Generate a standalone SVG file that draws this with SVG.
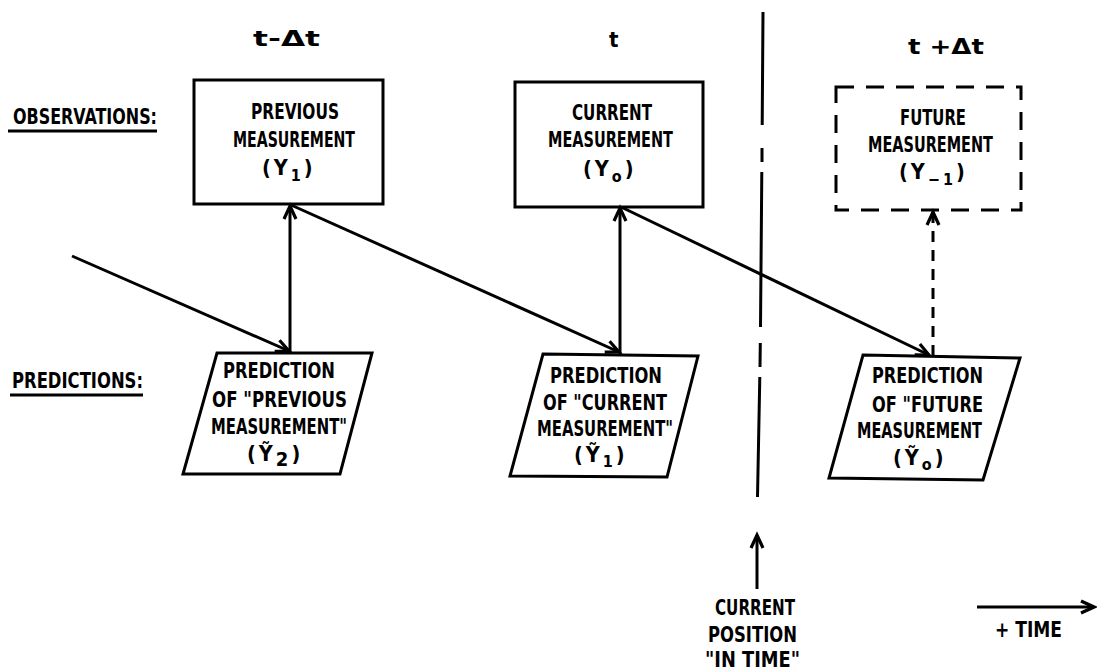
<svg xmlns="http://www.w3.org/2000/svg" width="1097" height="670" viewBox="0 0 1097 670">
<style>
text{font-family:"DejaVu Sans Condensed","DejaVu Sans","Liberation Sans",sans-serif;font-stretch:condensed;font-weight:bold;font-size:21.5px;fill:#000}
.shape{fill:none;stroke:#000;stroke-width:3;stroke-linejoin:miter}
.dash{stroke-dasharray:18 12}
.ln{fill:none;stroke:#000;stroke-width:3}
.sub{font-size:16px}
.tl{font-size:22px}
</style>
<defs>
<marker id="ah" markerUnits="userSpaceOnUse" markerWidth="24" markerHeight="24" viewBox="-18 -12 24 24" refX="0" refY="0" orient="auto">
<path d="M-13,-6 L0,0 L-13,6" fill="none" stroke="#000" stroke-width="3.2"/>
</marker>
</defs>
<rect width="1097" height="670" fill="#fff"/>

<g id="time-labels">
<text class="tl" x="253" y="46" textLength="67" lengthAdjust="spacingAndGlyphs">t-Δt</text>
<text class="tl" x="609" y="47">t</text>
<text class="tl" x="908" y="54" textLength="76" lengthAdjust="spacingAndGlyphs">t +Δt</text>
</g>

<g id="row-labels">
<text x="13" y="124" textLength="144" lengthAdjust="spacingAndGlyphs">OBSERVATIONS:</text>
<line x1="8" y1="131" x2="157" y2="131" class="ln"/>
<text x="12" y="388" textLength="131" lengthAdjust="spacingAndGlyphs">PREDICTIONS:</text>
<line x1="10" y1="395" x2="143" y2="395" class="ln"/>
</g>

<g id="previous-measurement">
<rect x="194" y="80" width="189" height="124" class="shape"/>
<text x="251" y="119" textLength="88" lengthAdjust="spacingAndGlyphs">PREVIOUS</text>
<text x="233" y="147" textLength="122" lengthAdjust="spacingAndGlyphs">MEASUREMENT</text>
<text x="262" y="175" letter-spacing="3">(Y<tspan class="sub" dy="6">1</tspan><tspan dy="-6">)</tspan></text>
</g>

<g id="current-measurement">
<rect x="515" y="82" width="188" height="125" class="shape"/>
<text x="572" y="120" textLength="80" lengthAdjust="spacingAndGlyphs">CURRENT</text>
<text x="548" y="147" textLength="125" lengthAdjust="spacingAndGlyphs">MEASUREMENT</text>
<text x="583" y="176" letter-spacing="3">(Y<tspan class="sub" dy="6">o</tspan><tspan dy="-6">)</tspan></text>
</g>

<g id="future-measurement">
<rect x="836" y="87" width="185" height="123" class="shape dash"/>
<text x="900" y="125" textLength="66" lengthAdjust="spacingAndGlyphs">FUTURE</text>
<text x="868" y="152" textLength="125" lengthAdjust="spacingAndGlyphs">MEASUREMENT</text>
<text x="899" y="179" letter-spacing="3">(Y<tspan class="sub" dy="6">−1</tspan><tspan dy="-6">)</tspan></text>
</g>

<g id="prediction-previous">
<polygon points="217,353 372,353 340,474 183,474" class="shape"/>
<text x="223" y="378" textLength="112" lengthAdjust="spacingAndGlyphs">PREDICTION</text>
<text x="212" y="407" textLength="135" lengthAdjust="spacingAndGlyphs">OF "PREVIOUS</text>
<text x="211" y="434" textLength="136" lengthAdjust="spacingAndGlyphs">MEASUREMENT"</text>
<text x="247" y="461" letter-spacing="3">(Ỹ<tspan dy="5" font-size="20px">2</tspan><tspan dy="-5">)</tspan></text>
</g>

<g id="prediction-current">
<polygon points="543,354 698,356 667,477 510,476" class="shape"/>
<text x="550" y="383" textLength="112" lengthAdjust="spacingAndGlyphs">PREDICTION</text>
<text x="543" y="410" textLength="124" lengthAdjust="spacingAndGlyphs">OF "CURRENT</text>
<text x="537" y="436" textLength="136" lengthAdjust="spacingAndGlyphs">MEASUREMENT"</text>
<text x="574" y="462" letter-spacing="3">(Ỹ<tspan class="sub" dy="5">1</tspan><tspan dy="-5">)</tspan></text>
</g>

<g id="prediction-future">
<polygon points="863,355 1020,358 983,480 829,478" class="shape"/>
<text x="872" y="383" textLength="111" lengthAdjust="spacingAndGlyphs">PREDICTION</text>
<text x="872" y="412" textLength="111" lengthAdjust="spacingAndGlyphs">OF "FUTURE</text>
<text x="857" y="438" textLength="125" lengthAdjust="spacingAndGlyphs">MEASUREMENT</text>
<text x="893" y="465" letter-spacing="3">(Ỹ<tspan class="sub" dy="5">o</tspan><tspan dy="-5">)</tspan></text>
</g>

<g id="current-position">
<path d="M763,12 L762.2,125 M762,148 L762,162 M761.8,172 L760.5,327 M760.3,343 L760,367 M759.8,377 L757.5,497" class="ln"/>
<text x="715" y="615" textLength="80" lengthAdjust="spacingAndGlyphs">CURRENT</text>
<text x="708" y="642" textLength="89" lengthAdjust="spacingAndGlyphs">POSITION</text>
<text x="705" y="667" textLength="95" lengthAdjust="spacingAndGlyphs">"IN TIME"</text>
</g>

<g id="time-axis">
<text x="995" y="637" textLength="67" lengthAdjust="spacingAndGlyphs">+ TIME</text>
</g>

<g id="connectors">
<line x1="72" y1="256" x2="289" y2="351" class="ln" marker-end="url(#ah)"/>
<line x1="290" y1="353" x2="290" y2="206" class="ln" marker-end="url(#ah)"/>
<line x1="291" y1="205" x2="619" y2="352" class="ln" marker-end="url(#ah)"/>
<line x1="620" y1="354" x2="620" y2="208" class="ln" marker-end="url(#ah)"/>
<line x1="621" y1="207" x2="929" y2="355" class="ln" marker-end="url(#ah)"/>
<line x1="933" y1="356" x2="933" y2="212" class="ln" stroke-dasharray="11 8" marker-end="url(#ah)"/>
<line x1="757" y1="589" x2="757" y2="535" class="ln" marker-end="url(#ah)"/>
<line x1="977" y1="607" x2="1094" y2="607" class="ln" marker-end="url(#ah)"/>
</g>
</svg>
